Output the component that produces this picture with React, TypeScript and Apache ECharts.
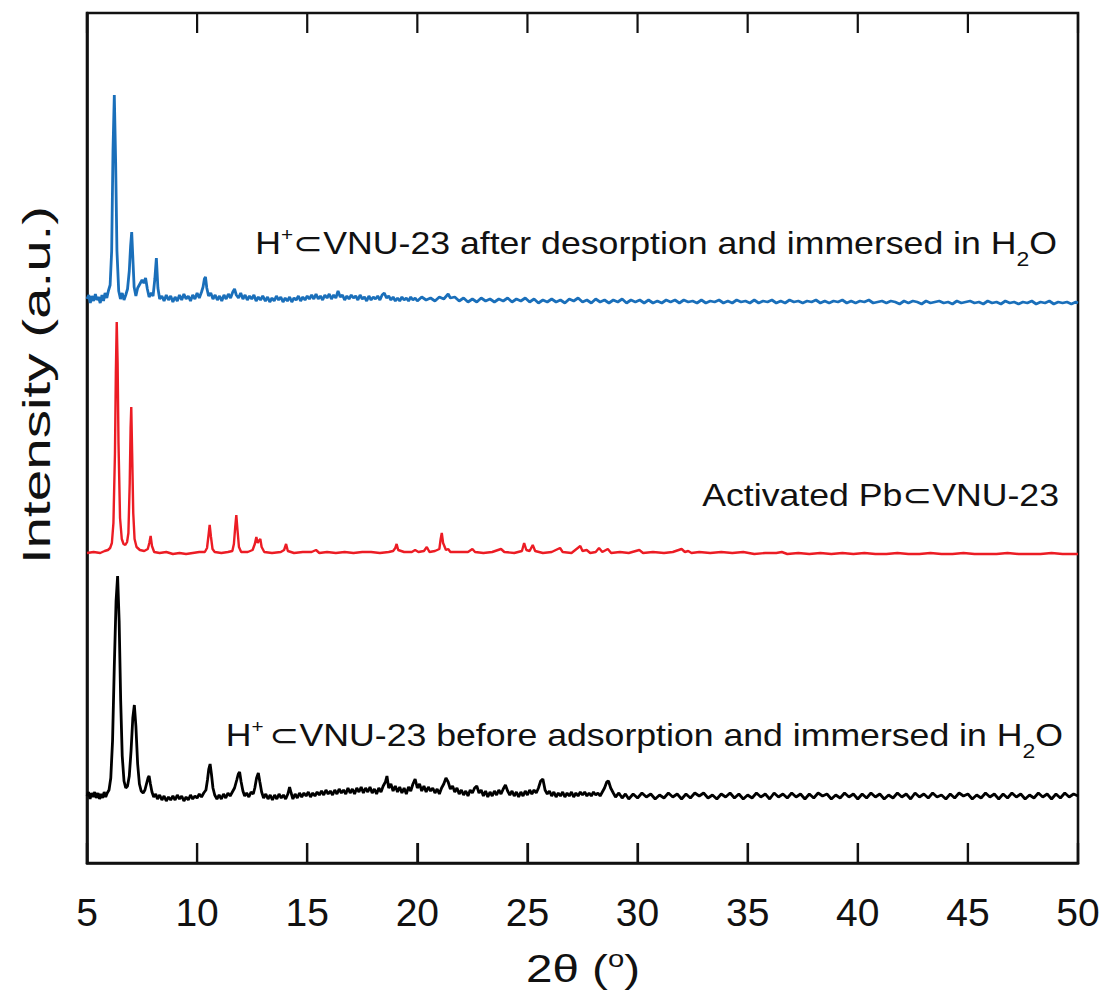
import React, { useEffect, useRef } from "react";
import * as echarts from "echarts";

const FONT = "'Liberation Sans', Arial, 'DejaVu Sans', sans-serif";

const xTicks = [5, 10, 15, 20, 25, 30, 35, 40, 45, 50];
const yRange = [0, 850];
const seriesNames = [
  "H+⊂VNU-23 after desorption and immersed in H2O",
  "Activated Pb⊂VNU-23",
  "H+⊂VNU-23 before adsorption and immersed in H2O",
];
const seriesColors = ["#1a6fba", "#ec1c24", "#000000"];
// vertical offsets of the stacked patterns (a.u.)
const seriesOffsets = [562, 310, 67];

// [2θ, intensity above own baseline]
const blueXRD: [number, number][] = [
  [5.0, 2], [5.08, 6], [5.15, -2], [5.22, 5], [5.3, 0], [5.38, 7], [5.45, 1], [5.52, 4], [5.6, -2], [5.68, 6],
  [5.75, 0], [5.82, 8], [5.9, 3], [5.97, 10], [6.05, 16], [6.12, 50], [6.18, 150], [6.24, 206], [6.3, 140], [6.36, 50],
  [6.44, 10], [6.52, 2], [6.6, 8], [6.68, 1], [6.76, 6], [6.84, 12], [6.92, 30], [6.98, 55], [7.03, 69], [7.08, 44],
  [7.14, 14], [7.22, 5], [7.3, 13], [7.4, 17], [7.5, 21], [7.58, 18], [7.66, 23], [7.74, 12], [7.82, 4], [7.92, 8],
  [8.0, 5], [8.08, 22], [8.15, 43], [8.22, 13], [8.3, 2], [8.4, 5], [8.5, 0], [8.6, 6], [8.7, 1], [8.8, 5],
  [8.9, -1], [9.0, 4], [9.1, 0], [9.2, 6], [9.3, 1], [9.4, 7], [9.5, 2], [9.6, 5], [9.7, 0], [9.8, 6],
  [9.9, 2], [10.0, 8], [10.1, 3], [10.2, 9], [10.27, 14], [10.33, 22], [10.38, 24], [10.44, 13], [10.52, 5], [10.62, 8],
  [10.72, 2], [10.82, 6], [10.92, 1], [11.02, 5], [11.12, 0], [11.22, 6], [11.32, 2], [11.42, 7], [11.52, 3], [11.62, 9],
  [11.7, 12], [11.78, 6], [11.88, 3], [11.98, 8], [12.08, 2], [12.18, 6], [12.28, 1], [12.38, 5], [12.48, 2], [12.58, 6],
  [12.68, 0], [12.78, 4], [12.88, 1], [12.98, 5], [13.1, 0], [13.2, 4], [13.3, -1], [13.4, 3], [13.5, 0], [13.6, 5],
  [13.7, 1], [13.8, 4], [13.9, -1], [14.0, 3], [14.1, 0], [14.2, 4], [14.3, -1], [14.4, 3], [14.5, 1], [14.6, 5],
  [14.7, 0], [14.8, 4], [14.9, 1], [15.0, 5], [15.1, 2], [15.2, 6], [15.3, 2], [15.4, 7], [15.5, 2], [15.6, 5],
  [15.7, 1], [15.8, 6], [15.9, 3], [16.0, 7], [16.1, 2], [16.2, 6], [16.3, 3], [16.4, 10], [16.5, 4], [16.6, 6],
  [16.7, 1], [16.8, 5], [16.9, 2], [17.0, 6], [17.1, 3], [17.2, 5], [17.3, 1], [17.4, 6], [17.5, 2], [17.6, 4],
  [17.7, 0], [17.8, 5], [17.9, 1], [18.0, 4], [18.1, 2], [18.2, 5], [18.3, 1], [18.4, 6], [18.5, 8], [18.6, 3],
  [18.7, 5], [18.8, 1], [18.9, 4], [19.0, 0], [19.1, 3], [19.2, 0], [19.3, 4], [19.4, 1], [19.5, 3], [19.6, 0],
  [19.7, 4], [19.8, 1], [19.9, 3], [20.0, 0], [20.2, 4], [20.4, 1], [20.6, 3], [20.8, 0], [21.0, 4], [21.2, 2],
  [21.4, 7], [21.5, 3], [21.7, 4], [21.9, 0], [22.1, 3], [22.3, -1], [22.5, 2], [22.7, -1], [22.9, 3], [23.1, 0],
  [23.3, 2], [23.5, -1], [23.7, 2], [23.9, 0], [24.1, 3], [24.3, -1], [24.5, 2], [24.7, 0], [24.9, 3], [25.1, -1],
  [25.3, 2], [25.5, -2], [25.7, 1], [25.9, -1], [26.1, 2], [26.3, -1], [26.5, 1], [26.7, -2], [26.9, 2], [27.1, 0],
  [27.3, 3], [27.5, -1], [27.7, 1], [27.9, -2], [28.1, 2], [28.3, -1], [28.5, 1], [28.7, -2], [28.9, 1], [29.1, -1],
  [29.3, 2], [29.5, -2], [29.7, 1], [29.9, -1], [30.1, 1], [30.3, -2], [30.5, 1], [30.7, -2], [30.9, 0], [31.1, -2],
  [31.3, 1], [31.5, -1], [31.7, 1], [31.9, -2], [32.1, 1], [32.3, -1], [32.5, 0], [32.7, -2], [32.9, 1], [33.1, -2],
  [33.3, 0], [33.5, -1], [33.7, 1], [33.9, -2], [34.1, 0], [34.3, -2], [34.5, 1], [34.7, -1], [34.9, 0], [35.1, -2],
  [35.3, 1], [35.5, -2], [35.7, 0], [35.9, -1], [36.1, 1], [36.3, -2], [36.5, 0], [36.7, -2], [36.9, 1], [37.1, -1],
  [37.3, 0], [37.5, -2], [37.7, 0], [37.9, -1], [38.1, 1], [38.3, -2], [38.5, 0], [38.7, -2], [38.9, 0], [39.1, -1],
  [39.3, 1], [39.5, -2], [39.7, 0], [39.9, -2], [40.1, 0], [40.3, -1], [40.5, 1], [40.7, -2], [40.9, -1], [41.1, 0],
  [41.3, -2], [41.5, 0], [41.7, -1], [41.9, -3], [42.1, 0], [42.3, -2], [42.5, 0], [42.7, -1], [42.9, -3], [43.1, 0],
  [43.3, -2], [43.5, -1], [43.7, 0], [43.9, -2], [44.1, -1], [44.3, -3], [44.5, 0], [44.7, -2], [44.9, -1], [45.1, 0],
  [45.3, -2], [45.5, -1], [45.7, -3], [45.9, 0], [46.1, -2], [46.3, -1], [46.5, -3], [46.7, 0], [46.9, -2], [47.1, -1],
  [47.3, -3], [47.5, -1], [47.7, -2], [47.9, 0], [48.1, -3], [48.3, -1], [48.5, -2], [48.7, 0], [48.9, -3], [49.1, -1],
  [49.3, -2], [49.5, -1], [49.7, -3], [49.9, -1], [50.0, -2],
];

const redXRD: [number, number][] = [
  [5.0, 0], [5.3, 1], [5.6, 0], [5.8, 2], [5.95, 3], [6.05, 5], [6.13, 10], [6.2, 30], [6.27, 100], [6.31, 180],
  [6.35, 231], [6.39, 190], [6.43, 110], [6.5, 35], [6.58, 14], [6.66, 9], [6.74, 8], [6.82, 11], [6.88, 20], [6.94, 70],
  [6.98, 125], [7.01, 146], [7.05, 100], [7.1, 40], [7.16, 14], [7.25, 6], [7.4, 3], [7.6, 2], [7.76, 4], [7.83, 10],
  [7.89, 17], [7.95, 7], [8.05, 1], [8.3, 0], [8.6, 1], [8.9, -1], [9.2, 0], [9.5, -1], [9.8, 0], [10.1, 1],
  [10.35, 1], [10.45, 5], [10.52, 18], [10.57, 28], [10.63, 16], [10.7, 4], [10.8, 1], [11.1, 0], [11.4, 1], [11.6, 2],
  [11.67, 9], [11.73, 26], [11.78, 38], [11.83, 24], [11.9, 6], [12.0, 1], [12.3, 1], [12.52, 3], [12.62, 9], [12.69, 16],
  [12.75, 10], [12.8, 12], [12.87, 14], [12.93, 6], [13.05, 1], [13.4, 0], [13.8, 1], [13.95, 3], [14.04, 9], [14.12, 2],
  [14.4, 0], [14.8, 1], [15.2, 1], [15.4, 3], [15.55, 0], [15.9, 1], [16.3, 0], [16.7, 1], [17.1, 0], [17.5, 1],
  [17.9, 1], [18.3, 0], [18.7, 1], [18.9, 2], [19.0, 5], [19.06, 9], [19.13, 3], [19.4, 1], [19.75, 1], [19.9, 3],
  [20.05, 1], [20.3, 2], [20.43, 6], [20.55, 1], [20.8, 2], [21.0, 4], [21.06, 14], [21.11, 20], [21.17, 10], [21.3, 3],
  [21.4, 4], [21.5, 1], [21.9, 1], [22.3, 1], [22.5, 4], [22.62, 1], [23.0, 0], [23.4, 1], [23.8, 4], [23.95, 1],
  [24.4, 0], [24.75, 2], [24.85, 10], [24.95, 3], [25.1, 2], [25.24, 8], [25.35, 2], [25.7, 0], [26.1, 1], [26.48, 5],
  [26.6, 1], [27.0, 0], [27.4, 7], [27.5, 2], [27.69, 3], [27.85, 0], [28.1, 1], [28.25, 5], [28.4, 1], [28.65, 4],
  [28.8, 0], [29.2, 1], [29.6, 0], [30.08, 3], [30.25, 0], [30.7, 1], [31.2, 0], [31.6, 1], [32.0, 4], [32.15, 1],
  [32.3, 2], [32.45, 0], [32.8, 1], [33.3, 0], [33.8, 1], [34.3, 0], [34.8, 1], [35.3, -1], [35.8, 0], [36.3, 0],
  [36.55, 1], [36.8, -1], [37.3, 0], [37.8, -1], [38.3, 0], [38.8, -1], [39.3, 0], [39.8, -1], [40.3, 0], [40.8, -1],
  [41.3, -1], [41.8, 0], [42.3, -1], [42.8, -1], [43.3, 0], [43.8, -1], [44.3, -1], [44.8, 0], [45.3, -1], [45.8, -1],
  [46.3, -1], [46.8, 0], [47.3, -1], [47.8, -1], [48.3, -1], [48.8, 0], [49.3, -1], [50.0, -1],
];

const blackXRD: [number, number][] = [
  [5.0, 0], [5.07, 4], [5.14, -3], [5.21, 3], [5.28, -1], [5.35, 4], [5.42, -2], [5.5, 3], [5.57, -3], [5.64, 2],
  [5.71, -2], [5.78, 4], [5.85, -1], [5.92, 3], [6.0, 6], [6.08, 18], [6.16, 55], [6.24, 130], [6.32, 195], [6.39, 220],
  [6.46, 175], [6.53, 95], [6.6, 40], [6.68, 15], [6.76, 8], [6.84, 10], [6.92, 20], [7.0, 45], [7.08, 78], [7.15, 91],
  [7.22, 70], [7.3, 32], [7.38, 12], [7.46, 5], [7.55, 3], [7.63, 6], [7.7, 12], [7.77, 18], [7.82, 20], [7.88, 12],
  [7.95, 4], [8.03, -1], [8.12, 2], [8.2, -3], [8.3, 1], [8.4, -4], [8.5, 0], [8.6, -5], [8.7, -1], [8.8, -4],
  [8.9, 0], [9.0, -4], [9.1, 1], [9.2, -3], [9.3, 0], [9.4, -5], [9.5, -1], [9.6, -4], [9.7, 1], [9.8, -3],
  [9.9, 0], [10.0, -2], [10.1, 2], [10.2, -1], [10.3, 3], [10.4, 6], [10.47, 16], [10.53, 27], [10.59, 32], [10.65, 22],
  [10.72, 8], [10.8, 1], [10.9, -3], [11.0, 1], [11.1, -3], [11.2, 2], [11.3, -2], [11.4, 3], [11.5, 0], [11.6, 4],
  [11.7, 8], [11.8, 16], [11.87, 22], [11.93, 24], [12.0, 14], [12.08, 5], [12.16, 0], [12.25, 3], [12.35, -1], [12.45, 4],
  [12.55, 2], [12.62, 8], [12.7, 18], [12.78, 23], [12.85, 14], [12.93, 4], [13.02, -2], [13.12, 2], [13.22, -3], [13.32, 1],
  [13.42, -4], [13.52, 1], [13.62, -3], [13.72, 2], [13.82, -2], [13.92, 1], [14.02, -3], [14.12, 2], [14.2, 9], [14.27, 3],
  [14.35, -3], [14.45, 2], [14.55, -2], [14.65, 3], [14.75, -1], [14.85, 3], [14.95, 0], [15.05, 4], [15.15, -1], [15.25, 3],
  [15.35, 0], [15.45, 4], [15.55, 1], [15.65, 5], [15.75, 1], [15.85, 6], [15.95, 2], [16.05, 5], [16.15, 1], [16.25, 6],
  [16.35, 2], [16.45, 7], [16.55, 3], [16.65, 6], [16.75, 2], [16.85, 8], [16.95, 3], [17.05, 7], [17.15, 2], [17.25, 8],
  [17.35, 4], [17.45, 9], [17.55, 3], [17.65, 8], [17.75, 4], [17.85, 9], [17.95, 3], [18.05, 7], [18.15, 2], [18.25, 8],
  [18.35, 4], [18.45, 10], [18.55, 14], [18.62, 20], [18.7, 8], [18.8, 12], [18.9, 5], [19.0, 10], [19.1, 4], [19.2, 9],
  [19.3, 3], [19.4, 8], [19.5, 2], [19.6, 9], [19.7, 5], [19.8, 12], [19.9, 17], [20.0, 8], [20.1, 12], [20.2, 5],
  [20.3, 10], [20.4, 4], [20.5, 9], [20.6, 5], [20.7, 8], [20.8, 3], [20.9, 7], [21.0, 2], [21.1, 8], [21.2, 12],
  [21.3, 18], [21.4, 14], [21.5, 7], [21.6, 10], [21.7, 4], [21.8, 8], [21.9, 2], [22.0, 6], [22.1, 1], [22.2, 5],
  [22.3, 0], [22.4, 6], [22.5, 3], [22.6, 8], [22.7, 10], [22.8, 3], [22.9, 6], [23.0, 0], [23.1, 5], [23.2, -1],
  [23.3, 4], [23.4, 0], [23.5, 5], [23.6, 1], [23.7, 6], [23.8, 2], [23.9, 7], [24.0, 11], [24.1, 5], [24.2, 1],
  [24.3, 5], [24.4, 0], [24.5, 4], [24.6, -1], [24.7, 4], [24.8, 0], [24.9, 5], [25.0, 1], [25.1, 6], [25.2, 2],
  [25.3, 6], [25.4, 3], [25.5, 8], [25.6, 15], [25.7, 17], [25.8, 6], [25.9, 2], [26.0, 5], [26.1, 0], [26.2, 4],
  [26.3, -1], [26.4, 3], [26.5, 0], [26.6, 4], [26.7, -1], [26.8, 3], [26.9, 0], [27.0, 4], [27.1, -1], [27.2, 3],
  [27.3, 0], [27.4, 4], [27.5, 1], [27.6, 4], [27.7, 0], [27.8, 3], [27.9, 0], [28.0, 4], [28.1, 1], [28.2, 3],
  [28.3, 0], [28.4, 4], [28.5, 8], [28.6, 14], [28.68, 15], [28.78, 8], [28.9, 3], [29.0, -1], [29.15, 3], [29.3, -2],
  [29.45, 2], [29.6, -3], [29.8, 2], [30.0, -2], [30.2, 3], [30.4, -1], [30.6, 2], [30.8, -3], [31.0, 1], [31.2, -2],
  [31.4, 3], [31.6, -1], [31.8, 2], [32.0, -3], [32.2, 2], [32.4, -2], [32.6, 3], [32.8, 0], [33.0, 3], [33.2, -2],
  [33.4, 1], [33.6, -3], [33.8, 2], [34.0, -1], [34.2, 3], [34.4, -2], [34.6, 2], [34.8, -3], [35.0, 1], [35.2, -2],
  [35.4, 3], [35.6, -1], [35.8, 2], [36.0, -3], [36.2, 3], [36.4, -1], [36.6, 2], [36.8, -2], [37.0, 3], [37.2, -1],
  [37.4, 2], [37.6, -3], [37.8, 2], [38.0, -2], [38.2, 3], [38.4, 0], [38.6, 2], [38.8, -3], [39.0, 1], [39.2, -2],
  [39.4, 3], [39.6, -1], [39.8, 2], [40.0, -3], [40.2, 2], [40.4, -2], [40.6, 3], [40.8, -1], [41.0, 2], [41.2, -3],
  [41.4, 1], [41.6, -2], [41.8, 3], [42.0, -1], [42.2, 2], [42.4, -3], [42.6, 3], [42.8, -1], [43.0, 2], [43.2, -2],
  [43.4, 3], [43.6, -1], [43.8, 1], [44.0, -3], [44.2, 2], [44.4, -2], [44.6, 3], [44.8, 0], [45.0, 2], [45.2, -3],
  [45.4, 1], [45.6, -2], [45.8, 3], [46.0, -1], [46.2, 2], [46.4, -3], [46.6, 2], [46.8, -2], [47.0, 3], [47.2, -1],
  [47.4, 2], [47.6, -3], [47.8, 1], [48.0, -2], [48.2, 3], [48.4, -1], [48.6, 2], [48.8, -3], [49.0, 2], [49.2, -2],
  [49.4, 3], [49.6, -1], [49.8, 2], [50.0, 0],
];

const patterns = [blueXRD, redXRD, blackXRD];

export default function App() {
  const ref = useRef<HTMLDivElement>(null);
  useEffect(() => {
    document.body.style.margin = "0";
    if (!ref.current) return;
    const chart = echarts.init(ref.current, null, { renderer: "svg" });

    const series: any[] = patterns.map((pts, i) => ({
      name: seriesNames[i],
      type: "line",
      showSymbol: false,
      symbol: "none",
      smooth: false,
      lineStyle: { color: seriesColors[i], width: i === 1 ? 2.4 : 2.8 },
      itemStyle: { color: seriesColors[i] },
      data: pts.map(([x, v]) => [x, v + seriesOffsets[i]]),
      z: 3,
    }));

    const sup = { fontSize: 18, fontFamily: FONT, color: "#111", verticalAlign: "top", lineHeight: 36 };
    const sub = { fontSize: 20, fontFamily: FONT, color: "#111", verticalAlign: "bottom", lineHeight: 30, padding: [0, 0, -8, 0] };
    const n = { fontSize: 31, fontFamily: FONT, color: "#111", lineHeight: 36 };
    const sym = { fontSize: 31, fontFamily: "'DejaVu Sans', sans-serif", color: "#111", lineHeight: 36 };

    const label = (x: number, y: number, text: string) => ({
      type: "text",
      x,
      y,
      scaleX: 1.15,
      z: 10,
      style: {
        text,
        align: "right",
        verticalAlign: "middle",
        fontSize: 31,
        fontFamily: FONT,
        fill: "#111",
        rich: { n, sup, sub, sym },
      },
    });

    const baseGraphic: any[] = [
      {
        type: "text",
        x: 36,
        y: 385,
        rotation: Math.PI / 2,
        scaleX: 1.45,
        z: 10,
        style: {
          text: "Intensity (a.u.)",
          align: "center",
          verticalAlign: "middle",
          fontSize: 39,
          fontFamily: FONT,
          fill: "#111",
        },
      },
      {
        type: "text",
        x: 583,
        y: 969,
        scaleX: 1.22,
        z: 10,
        style: {
          text: "{a|2θ (}{s|o}{a|)}",
          align: "center",
          verticalAlign: "middle",
          fontSize: 39,
          fontFamily: FONT,
          fill: "#111",
          rich: {
            a: { fontSize: 39, fontFamily: FONT, color: "#111", lineHeight: 44 },
            s: { fontSize: 24, fontFamily: FONT, color: "#111", verticalAlign: "top", lineHeight: 44 },
          },
        },
      },
      label(1057, 243, "{n|H}{sup|+}{sym|⊂}{n|VNU-23 after desorption and immersed in H}{sub|2}{n|O}"),
      label(1059, 495, "{n|Activated Pb}{sym|⊂}{n|VNU-23}"),
      label(1063, 735, "{n|H}{sup|+ }{sym|⊂}{n|VNU-23 before adsorption and immersed in H}{sub|2}{n|O}"),
    ];

    const option = {
      animation: false,
      backgroundColor: "#ffffff",
      grid: {
        left: 87,
        right: 27,
        top: 13,
        bottom: 131,
        containLabel: false,
        show: true,
        borderColor: "#111",
        borderWidth: 2.6,
        backgroundColor: "transparent",
      },
      xAxis: {
        type: "value",
        position: "bottom",
        min: xTicks[0],
        max: xTicks[xTicks.length - 1],
        interval: 5,
        axisLine: { show: true, onZero: false, lineStyle: { color: "#111", width: 2.6 } },
        axisTick: { show: true, inside: true, length: 20, lineStyle: { color: "#111", width: 2.2 } },
        axisLabel: { show: true, margin: 30, fontSize: 39, fontFamily: FONT, color: "#111" },
        splitLine: { show: false },
      },
      yAxis: {
        type: "value",
        position: "left",
        min: yRange[0],
        max: yRange[1],
        axisLine: { show: true, onZero: false, lineStyle: { color: "#111", width: 2.6 } },
        axisTick: { show: false },
        axisLabel: { show: false },
        splitLine: { show: false },
      },
      graphic: baseGraphic,
      series,
    };

    chart.setOption(option as any);

    // inward tick marks on the top and bottom frame edges, positioned through the axis scale
    const tickEls: any[] = [];
    xTicks.forEach((t) => {
      const b = chart.convertToPixel({ xAxisIndex: 0, yAxisIndex: 0 } as any, [t, yRange[0]]) as number[];
      const tp = chart.convertToPixel({ xAxisIndex: 0, yAxisIndex: 0 } as any, [t, yRange[1]]) as number[];
      if (!b || !tp) return;
      tickEls.push({
        type: "rect",
        z: 20,
        shape: { x: b[0] - 1.1, y: b[1] - 20, width: 2.2, height: 20 },
        style: { fill: "#111" },
      });
      tickEls.push({
        type: "rect",
        z: 20,
        shape: { x: tp[0] - 1.1, y: tp[1], width: 2.2, height: 20 },
        style: { fill: "#111" },
      });
    });
    chart.setOption({ graphic: baseGraphic.concat(tickEls) } as any);

    return () => chart.dispose();
  }, []);

  return (
    <div
      ref={ref}
      style={{ position: "absolute", left: 0, top: 0, width: 1105, height: 994, background: "#fff" }}
    />
  );
}
